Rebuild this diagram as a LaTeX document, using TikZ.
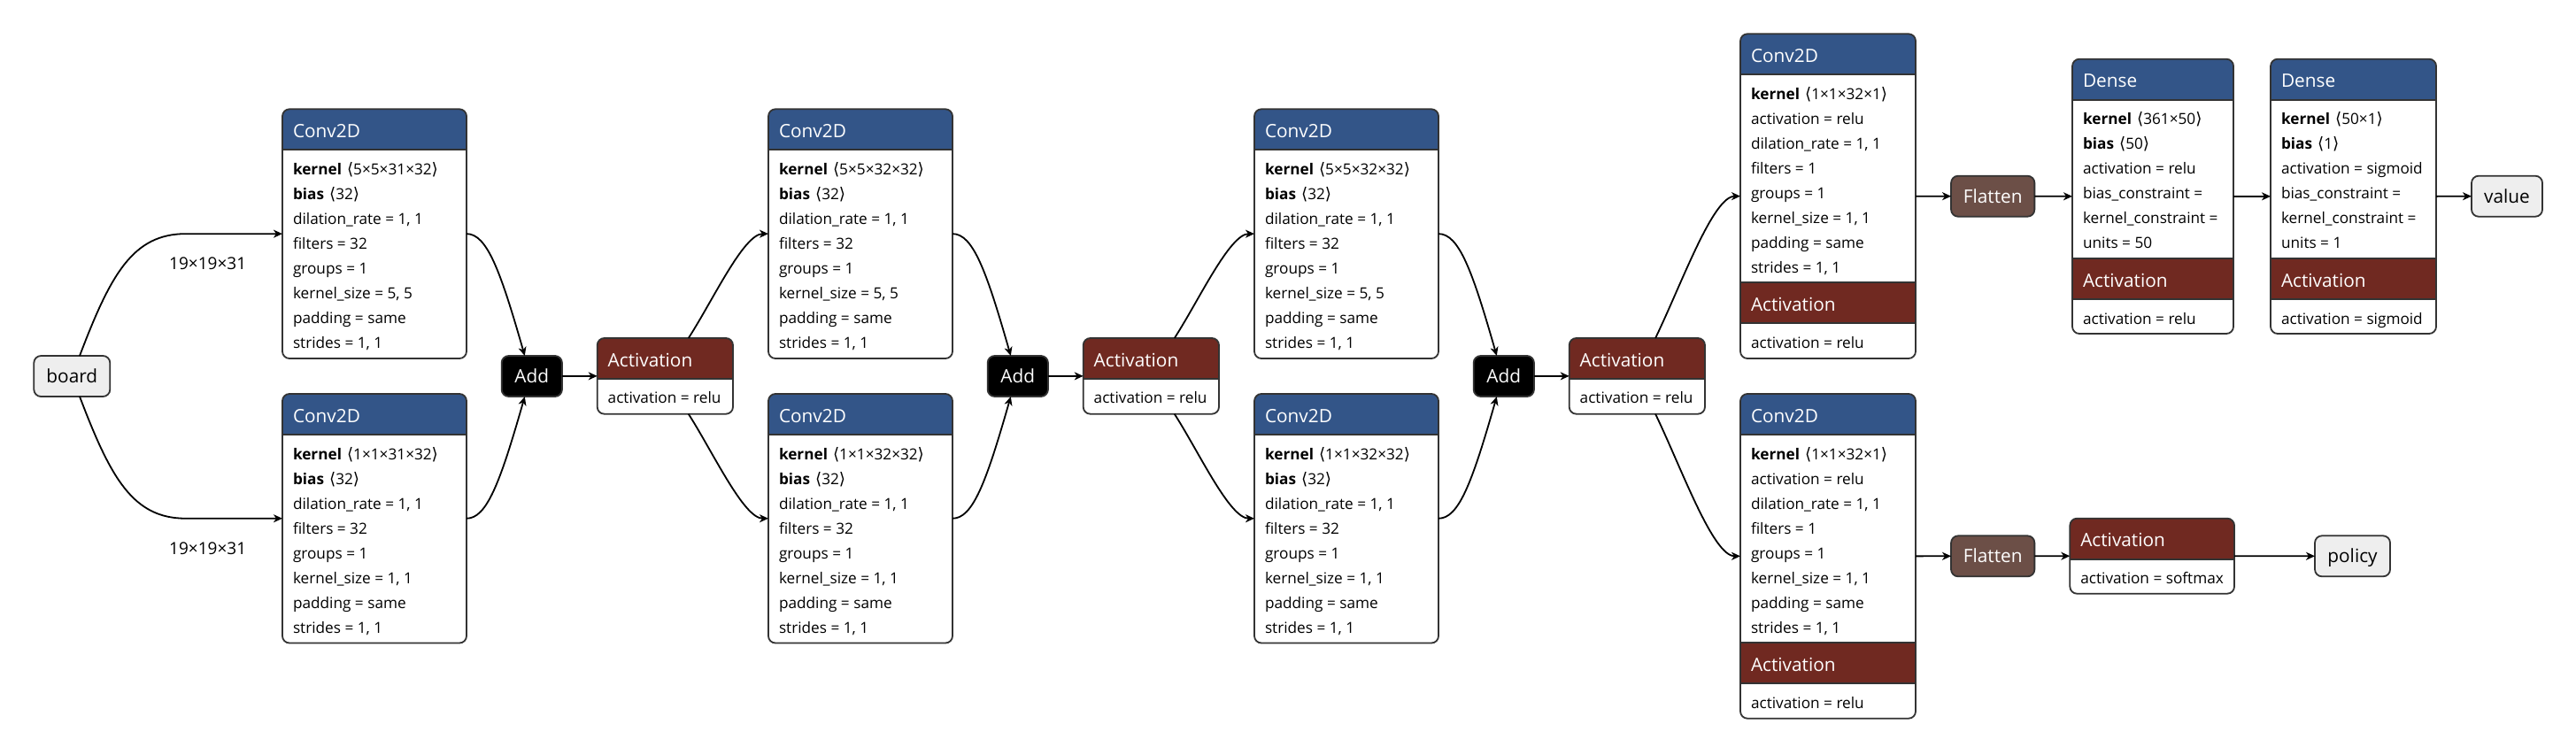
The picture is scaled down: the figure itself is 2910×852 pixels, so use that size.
\documentclass[tikz,border=0pt]{standalone}
\usepackage{fontspec}
\setmainfont{Open Sans}
\newfontfamily\symf{DejaVu Sans}
\usetikzlibrary{arrows.meta}
\definecolor{layerc}{RGB}{51,85,136}
\definecolor{actc}{RGB}{112,41,33}
\definecolor{flatc}{RGB}{108,79,71}
\definecolor{ioc}{RGB}{238,238,238}
\definecolor{bordc}{RGB}{51,51,51}
\newcommand\la{{\symf\fontsize{18.5}{20}\selectfont\char"27E8}}
\newcommand\ra{{\symf\fontsize{18.5}{20}\selectfont\char"27E9}}
\newcommand\kw[2]{\textbf{#1}\hspace{6pt}\la#2\ra}
\newcommand\ftxt{\fontsize{17.2}{20}\selectfont}
\newcommand\flbl{\fontsize{19}{22}\selectfont}
\newcommand\fttl{\fontsize{20.8}{24}\selectfont}
\tikzset{
  boxn/.style={rectangle, rounded corners=8pt, fill=white, inner sep=0pt, outer sep=0pt},
  brd/.style={draw=bordc, line width=1.8pt, rounded corners=8pt},
  sepl/.style={draw=bordc, line width=1.8pt},
  txt/.style={inner sep=0pt, outer sep=0pt, font=\ftxt, text=black},
  ttl/.style={inner sep=0pt, outer sep=0pt, font=\fttl, text=white},
  simple/.style={rectangle, rounded corners=8pt, draw=bordc, line width=1.8pt, minimum height=46pt, inner sep=0pt, outer sep=0pt, font=\fttl, text height=17pt, text depth=2pt},
  io/.style={simple, fill=ioc, text=black},
  addn/.style={simple, fill=black, text=white},
  flat/.style={simple, fill=flatc, text=white},
  edge/.style={draw=black, line width=1.8pt, -{Stealth[length=10pt,width=9pt,inset=3pt]}},
  lbl/.style={font=\flbl, inner sep=0pt, text=black}
}
\newcommand\mkbox[5]{%
  \node[boxn, minimum width={(#4)-(#2)}, minimum height={(#5)-(#3)}] (#1) at ({((#2)+(#4))/2},{((#3)+(#5))/2}) {};}
\newcommand\band[8]{%
  \begin{scope}
    \clip[rounded corners=8pt] (#1.north west) rectangle (#1.south east);
    \fill[#6] (#2,#4) rectangle (#3,#5);
  \end{scope}
  \draw[sepl] (#2,#5) -- (#3,#5);
  \node[ttl, anchor=base west] (#7) at (#2+12,#4+32) {#8};}
\newcommand\rows[4]{%
  \foreach \t [count=\i] in {#4} {\node[txt, anchor=base west] (#1-r\i) at (#2+12, #3+6.5+28*\i-28) {\t};}}
\newcommand\brdr[1]{\draw[brd] (#1.north west) rectangle (#1.south east);}
\begin{document}
\begin{tikzpicture}[x=1pt,y=-1pt]
\useasboundingbox (0,0) rectangle (2910,852);

% input
\node[io, minimum width=86pt] (board) at (81.3,425) {board};

% repeated columns
\foreach \k/\ch in {0/31,1/32,2/32} {
  \pgfmathsetmacro\xa{319+549*\k}
  \pgfmathsetmacro\xb{\xa+208}
  % top conv
  \mkbox{ct\k}{\xa}{123.3}{\xb}{405}
  \band{ct\k}{\xa}{\xb}{123.3}{169.3}{layerc}{ct\k-h}{Conv2D}
  \rows{ct\k}{\xa}{190.8}{{\kw{kernel}{5×5×\ch×32}},{\kw{bias}{32}},{dilation\_rate = 1, 1},{filters = 32},{groups = 1},{kernel\_size = 5, 5},{padding = same},{strides = 1, 1}}
  \brdr{ct\k}
  % bottom conv
  \mkbox{cb\k}{\xa}{445}{\xb}{726.5}
  \band{cb\k}{\xa}{\xb}{445}{491}{layerc}{cb\k-h}{Conv2D}
  \rows{cb\k}{\xa}{512.5}{{\kw{kernel}{1×1×\ch×32}},{\kw{bias}{32}},{dilation\_rate = 1, 1},{filters = 32},{groups = 1},{kernel\_size = 1, 1},{padding = same},{strides = 1, 1}}
  \brdr{cb\k}
  % add
  \node[addn, minimum width=68.3pt] (add\k) at (600.8+549*\k,425) {Add};
  % activation
  \pgfmathsetmacro\ya{674.7+549*\k}
  \pgfmathsetmacro\yb{\ya+153.3}
  \mkbox{act\k}{\ya}{382}{\yb}{467.7}
  \band{act\k}{\ya}{\yb}{382}{428}{actc}{act\k-h}{Activation}
  \rows{act\k}{\ya}{449}{{activation = relu}}
  \brdr{act\k}
}

% right-hand conv blocks
\mkbox{ct3}{1966}{38.3}{2164}{405}
\band{ct3}{1966}{2164}{38.3}{84.3}{layerc}{ct3-h}{Conv2D}
\rows{ct3}{1966}{105.8}{{\kw{kernel}{1×1×32×1}},{activation = relu},{dilation\_rate = 1, 1},{filters = 1},{groups = 1},{kernel\_size = 1, 1},{padding = same},{strides = 1, 1}}
\band{ct3}{1966}{2164}{319.3}{365.3}{actc}{ct3-a}{Activation}
\draw[sepl] (1966,319.3) -- (2164,319.3);
\rows{ct3a}{1966}{386.8}{{activation = relu}}
\brdr{ct3}

\mkbox{cb3}{1966}{445}{2164}{811.7}
\band{cb3}{1966}{2164}{445}{491}{layerc}{cb3-h}{Conv2D}
\rows{cb3}{1966}{512.5}{{\kw{kernel}{1×1×32×1}},{activation = relu},{dilation\_rate = 1, 1},{filters = 1},{groups = 1},{kernel\_size = 1, 1},{padding = same},{strides = 1, 1}}
\band{cb3}{1966}{2164}{726}{772}{actc}{cb3-a}{Activation}
\draw[sepl] (1966,726) -- (2164,726);
\rows{cb3a}{1966}{793.5}{{activation = relu}}
\brdr{cb3}

% flatten
\node[flat, minimum width=94.3pt] (fl1) at (2251.2,221.7) {Flatten};
\node[flat, minimum width=94.3pt] (fl2) at (2251.2,628.3) {Flatten};

% dense 1
\mkbox{d1}{2341}{66.7}{2523}{377}
\band{d1}{2341}{2523}{66.7}{112.7}{layerc}{d1-h}{Dense}
\rows{d1}{2341}{134.2}{{\kw{kernel}{361×50}},{\kw{bias}{50}},{activation = relu},{bias\_constraint =},{kernel\_constraint =},{units = 50}}
\band{d1}{2341}{2523}{292}{338}{actc}{d1-a}{Activation}
\draw[sepl] (2341,292) -- (2523,292);
\rows{d1a}{2341}{359.5}{{activation = relu}}
\brdr{d1}

% dense 2
\mkbox{d2}{2565}{66.7}{2752}{377}
\band{d2}{2565}{2752}{66.7}{112.7}{layerc}{d2-h}{Dense}
\rows{d2}{2565}{134.2}{{\kw{kernel}{50×1}},{\kw{bias}{1}},{activation = sigmoid},{bias\_constraint =},{kernel\_constraint =},{units = 1}}
\band{d2}{2565}{2752}{292}{338}{actc}{d2-a}{Activation}
\draw[sepl] (2565,292) -- (2752,292);
\rows{d2a}{2565}{359.5}{{activation = sigmoid}}
\brdr{d2}

% softmax activation
\mkbox{sm}{2338.3}{585.7}{2524}{670.7}
\band{sm}{2338.3}{2524}{585.7}{631.7}{actc}{sm-h}{Activation}
\rows{sm}{2338.3}{653}{{activation = softmax}}
\brdr{sm}

% outputs
\node[io, minimum width=80pt] (value) at (2832,221.7) {value};
\node[io, minimum width=85pt] (policy) at (2657.5,628.3) {policy};

% edges: input
\draw[edge] ([xshift=8.7pt]board.north) .. controls (125,310) and (150,264.15) .. (210,264.15) -- (ct0.west);
\draw[edge] ([xshift=8.7pt]board.south) .. controls (125,540) and (150,585.75) .. (210,585.75) -- (cb0.west);
\node[lbl] (lab1) at (234.7,297.3) {19×19×31};
\node[lbl] (lab2) at (234.7,619.3) {19×19×31};

\foreach \k in {0,1,2} {
  \pgfmathsetmacro\d{549*\k}
  \draw[edge] (ct\k.east) .. controls (550+\d,264.15) and (565+\d,305) .. ([xshift=-8pt]add\k.north);
  \draw[edge] (cb\k.east) .. controls (550+\d,585.75) and (565+\d,545) .. ([xshift=-8pt]add\k.south);
  \draw[edge] (add\k.east) -- (act\k.west);
}
\foreach \k in {0,1} {
  \pgfmathsetmacro\d{549*\k}
  \pgfmathtruncatemacro\kn{\k+1}
  \draw[edge] ([xshift=26.4pt]act\k.north) .. controls (805+\d,340) and (840+\d,264.15) .. (ct\kn.west);
  \draw[edge] ([xshift=26.4pt]act\k.south) .. controls (805+\d,510) and (840+\d,585.75) .. (cb\kn.west);
}
\draw[edge] ([xshift=20.7pt]act2.north) .. controls (1900,320) and (1935,221.7) .. (ct3.west);
\draw[edge] ([xshift=20.7pt]act2.south) .. controls (1900,530) and (1935,628.3) .. (cb3.west);

% edges: heads
\draw[edge] (ct3.east) -- (fl1.west);
\draw[edge] (fl1.east) -- (d1.west);
\draw[edge] (d1.east) -- (d2.west);
\draw[edge] (d2.east) -- (value.west);
\draw[edge] (cb3.east) -- (fl2.west);
\draw[edge] (fl2.east) -- (sm.west);
\draw[edge] (sm.east) -- (policy.west);
\end{tikzpicture}
\end{document}
